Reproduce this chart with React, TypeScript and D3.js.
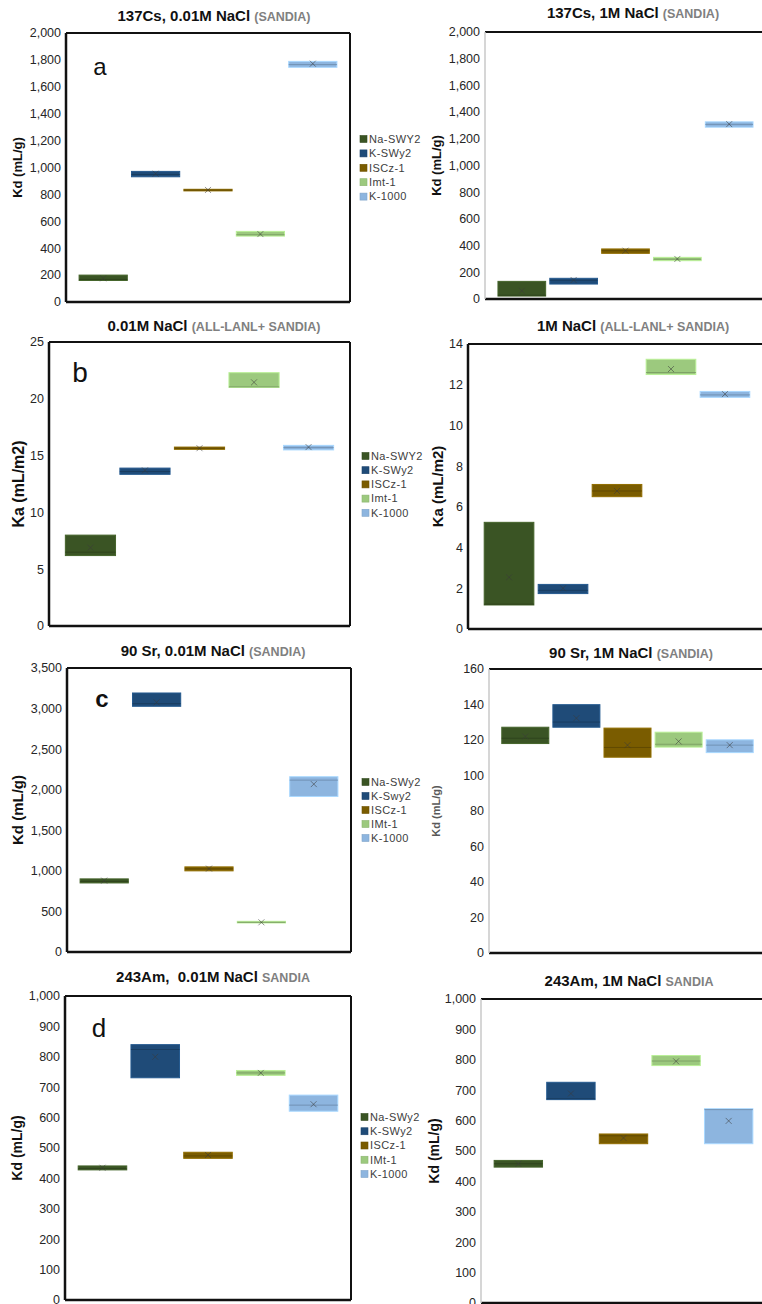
import React from 'react';
import * as d3 from 'd3';

// Clay minerals shown in every panel, in plotting order
const minerals = ['Na-SWY2', 'K-SWy2', 'ISCz-1', 'Imt-1', 'K-1000'];
const mineralColors = ['#3a5424', '#1f4b78', '#7a5c00', '#9cc97e', '#8db5df'];

// Legend wording differs slightly between the legend blocks
const legendLabelsA = ['Na-SWY2', 'K-SWy2', 'ISCz-1', 'Imt-1', 'K-1000'];
const legendLabelsC = ['Na-SWy2', 'K-Swy2', 'ISCz-1', 'IMt-1', 'K-1000'];
const legendLabelsD = ['Na-SWy2', 'K-SWy2', 'ISCz-1', 'IMt-1', 'K-1000'];

// 137Cs, 0.01 M NaCl — Kd (mL/g)
const csLowQ1 = [160, 931, 826, 490, 1745];
const csLowQ3 = [200, 971, 838, 525, 1789];
const csLowMed = [168, 948, 832, 500, 1765];
const csLowMean = [176, 954, 833, 505, 1772];

// 137Cs, 1 M NaCl — Kd (mL/g)
const csHighQ1 = [22, 112, 342, 287, 1287];
const csHighQ3 = [132, 155, 375, 312, 1327];
const csHighMed = [28, 140, 362, 298, 1308];
const csHighMean = [62, 142, 362, 300, 1310];

// 0.01 M NaCl — Ka (mL/m2)
const kaLowQ1 = [6.2, 13.35, 15.55, 21.0, 15.5];
const kaLowQ3 = [8.0, 13.9, 15.75, 22.3, 15.9];
const kaLowMed = [6.5, 13.6, 15.65, 21.05, 15.7];
const kaLowMean = [6.9, 13.7, 15.65, 21.45, 15.75];

// 1 M NaCl — Ka (mL/m2)
const kaHighQ1 = [1.18, 1.74, 6.5, 12.5, 11.38];
const kaHighQ3 = [5.24, 2.19, 7.1, 13.25, 11.67];
const kaHighMed = [1.22, 1.9, 6.78, 12.6, 11.5];
const kaHighMean = [2.54, 2.0, 6.78, 12.77, 11.54];

// 90Sr, 0.01 M NaCl — Kd (mL/g)
const srLowQ1 = [851, 3028, 1000, 358, 1917];
const srLowQ3 = [901, 3192, 1049, 378, 2160];
const srLowMed = [870, 3060, 1025, 366, 2118];
const srLowMean = [880, 3077, 1028, 366, 2069];

// 90Sr, 1 M NaCl — Kd (mL/g)
const srHighQ1 = [118.0, 127.2, 110.3, 116.0, 112.9];
const srHighQ3 = [127.2, 139.9, 126.7, 124.4, 120.1];
const srHighMed = [121.0, 130.1, 115.8, 117.6, 117.1];
const srHighMean = [122.0, 132.3, 117.1, 119.2, 117.1];

// 243Am, 0.01 M NaCl — Kd (mL/g)
const amLowQ1 = [428, 731, 466, 739, 621];
const amLowQ3 = [441, 840, 486, 755, 674];
const amLowMed = [432, 824, 474, 747, 641];
const amLowMean = [435, 800, 477, 747, 644];

// 243Am, 1 M NaCl — Kd (mL/g)
const amHighQ1 = [447, 669, 524, 781, 524];
const amHighQ3 = [469, 726, 556, 814, 639];
const amHighMed = [458, 672, 550, 796, 636];
const amHighMean = [458, 689, 543, 795, 599];

type Side = 'black' | 'gray' | 'none';

interface PanelSpec {
  title: string;
  note: string;
  titleX: number;
  titleY: number;
  left: number;
  right: number;
  top: number;
  bottom: number;
  max: number;
  step: number;
  q1: number[];
  q3: number[];
  med: number[];
  mean: number[];
  yLabel: string;
  yLabelX: number;
  yLabelSize: number;
  yLabelColor?: string;
  outerPad: number;
  frame: { top: Side; right: Side; bottom: Side; left: Side };
  letter?: { text: string; x: number; y: number; size: number; bold?: boolean };
  legend?: { x: number; y: number; gap: number; labels: string[] };
}

const FONT = "'Liberation Sans', Arial, Helvetica, sans-serif";

const panels: PanelSpec[] = [
  {
    title: '137Cs, 0.01M NaCl', note: '(SANDIA)', titleX: 214, titleY: 21,
    left: 66, right: 350, top: 33, bottom: 302, max: 2000, step: 200,
    q1: csLowQ1, q3: csLowQ3, med: csLowMed, mean: csLowMean,
    yLabel: 'Kd (mL/g)', yLabelX: 22, yLabelSize: 13, outerPad: 0.25,
    frame: { top: 'black', right: 'black', bottom: 'black', left: 'black' },
    letter: { text: 'a', x: 100, y: 75, size: 24 },
    legend: { x: 360, y: 139, gap: 14.4, labels: legendLabelsA },
  },
  {
    title: '137Cs, 1M NaCl', note: '(SANDIA)', titleX: 633, titleY: 18,
    left: 485, right: 766, top: 32, bottom: 299, max: 2000, step: 200,
    q1: csHighQ1, q3: csHighQ3, med: csHighMed, mean: csHighMean,
    yLabel: 'Kd (mL/g)', yLabelX: 441, yLabelSize: 13, outerPad: 0.25,
    frame: { top: 'black', right: 'none', bottom: 'black', left: 'gray' },
  },
  {
    title: '0.01M NaCl', note: '(ALL-LANL+ SANDIA)', titleX: 214, titleY: 331,
    left: 49, right: 350, top: 342, bottom: 626, max: 25, step: 5,
    q1: kaLowQ1, q3: kaLowQ3, med: kaLowMed, mean: kaLowMean,
    yLabel: 'Ka (mL/m2)', yLabelX: 24, yLabelSize: 16, outerPad: 0.3,
    frame: { top: 'black', right: 'black', bottom: 'black', left: 'black' },
    letter: { text: 'b', x: 80, y: 382, size: 28 },
    legend: { x: 362, y: 456, gap: 14.2, labels: legendLabelsA },
  },
  {
    title: '1M NaCl', note: '(ALL-LANL+ SANDIA)', titleX: 633, titleY: 331,
    left: 468, right: 766, top: 344, bottom: 629, max: 14, step: 2,
    q1: kaHighQ1, q3: kaHighQ3, med: kaHighMed, mean: kaHighMean,
    yLabel: 'Ka (mL/m2)', yLabelX: 443, yLabelSize: 15, outerPad: 0.3,
    frame: { top: 'black', right: 'none', bottom: 'black', left: 'black' },
  },
  {
    title: '90 Sr, 0.01M NaCl', note: '(SANDIA)', titleX: 213, titleY: 656,
    left: 67, right: 351, top: 668, bottom: 952, max: 3500, step: 500,
    q1: srLowQ1, q3: srLowQ3, med: srLowMed, mean: srLowMean,
    yLabel: 'Kd (mL/g)', yLabelX: 23, yLabelSize: 15, outerPad: 0.25,
    frame: { top: 'black', right: 'black', bottom: 'black', left: 'black' },
    letter: { text: 'c', x: 102, y: 707, size: 24, bold: true },
    legend: { x: 362, y: 782, gap: 14, labels: legendLabelsC },
  },
  {
    title: '90 Sr, 1M NaCl', note: '(SANDIA)', titleX: 631, titleY: 658,
    left: 489, right: 766, top: 669, bottom: 953, max: 160, step: 20,
    q1: srHighQ1, q3: srHighQ3, med: srHighMed, mean: srHighMean,
    yLabel: 'Kd (mL/g)', yLabelX: 440, yLabelSize: 11, yLabelColor: '#595959', outerPad: 0.25,
    frame: { top: 'black', right: 'none', bottom: 'black', left: 'gray' },
  },
  {
    title: '243Am,  0.01M NaCl', note: 'SANDIA', titleX: 213, titleY: 982,
    left: 65, right: 351, top: 996, bottom: 1300, max: 1000, step: 100,
    q1: amLowQ1, q3: amLowQ3, med: amLowMed, mean: amLowMean,
    yLabel: 'Kd (mL/g)', yLabelX: 22, yLabelSize: 14, outerPad: 0.25,
    frame: { top: 'black', right: 'black', bottom: 'black', left: 'black' },
    letter: { text: 'd', x: 99, y: 1037, size: 26 },
    legend: { x: 361, y: 1117, gap: 14.25, labels: legendLabelsD },
  },
  {
    title: '243Am, 1M NaCl', note: 'SANDIA', titleX: 629, titleY: 986,
    left: 481, right: 766, top: 999, bottom: 1303, max: 1000, step: 100,
    q1: amHighQ1, q3: amHighQ3, med: amHighMed, mean: amHighMean,
    yLabel: 'Kd (mL/g)', yLabelX: 439, yLabelSize: 14, outerPad: 0.25,
    frame: { top: 'black', right: 'none', bottom: 'black', left: 'gray' },
  },
];

const sideStroke = (s: Side) => (s === 'black' ? '#111' : s === 'gray' ? '#c8c8c8' : 'none');

function Panel({ p }: { p: PanelSpec }) {
  const y = d3.scaleLinear().domain([0, p.max]).range([p.bottom, p.top]);
  const x = d3
    .scaleBand<string>()
    .domain(minerals)
    .range([p.left, p.right])
    .paddingInner(0.08)
    .paddingOuter(p.outerPad);
  const ticks = d3.range(0, p.max + p.step / 2, p.step);
  const fmt = d3.format(',');
  const bw = x.bandwidth();
  const midY = (p.top + p.bottom) / 2;

  return (
    <g>
      {/* title */}
      <text
        x={p.titleX}
        y={p.titleY}
        textAnchor="middle"
        fontFamily={FONT}
        style={{ whiteSpace: 'pre' }}
      >
        <tspan fontSize={15} fontWeight="bold" fill="#111">
          {p.title + ' '}
        </tspan>
        <tspan fontSize={12.5} fontWeight="bold" fill="#808080">
          {p.note}
        </tspan>
      </text>

      {/* y ticks */}
      {ticks.map((t) => (
        <text
          key={t}
          x={p.left - 5}
          y={y(t)}
          dy="0.35em"
          textAnchor="end"
          fontFamily={FONT}
          fontSize={12.5}
          fill="#262626"
        >
          {fmt(t)}
        </text>
      ))}

      {/* y axis title */}
      <text
        transform={`translate(${p.yLabelX},${midY}) rotate(-90)`}
        textAnchor="middle"
        fontFamily={FONT}
        fontSize={p.yLabelSize}
        fontWeight="bold"
        fill={p.yLabelColor ?? '#111'}
      >
        {p.yLabel}
      </text>

      {/* boxes: interquartile range, median line and mean marker */}
      {minerals.map((m, i) => {
        const c = mineralColors[i];
        const x0 = x(m) as number;
        const yTop = y(p.q3[i]);
        const yBot = y(p.q1[i]);
        const edge = d3.color(c)!.brighter(0.5).formatHex();
        const mid = d3.color(c)!.darker(0.6).formatHex();
        const cx = x0 + bw / 2;
        const my = y(p.mean[i]);
        return (
          <g key={m}>
            <rect
              x={x0}
              y={yTop}
              width={bw}
              height={Math.max(1.5, yBot - yTop)}
              fill={c}
              stroke={edge}
              strokeWidth={1}
            />
            <line x1={x0} x2={x0 + bw} y1={y(p.med[i])} y2={y(p.med[i])} stroke={mid} strokeWidth={1} />
            <path
              d={`M${cx - 3},${my - 3}L${cx + 3},${my + 3}M${cx - 3},${my + 3}L${cx + 3},${my - 3}`}
              stroke="#3a3a3a"
              strokeOpacity={0.55}
              strokeWidth={1}
              fill="none"
            />
          </g>
        );
      })}

      {/* frame */}
      <line x1={p.left} x2={p.right} y1={p.top} y2={p.top} stroke={sideStroke(p.frame.top)} strokeWidth={2} />
      <line x1={p.left} x2={p.right} y1={p.bottom} y2={p.bottom} stroke={sideStroke(p.frame.bottom)} strokeWidth={2.5} />
      <line x1={p.left} x2={p.left} y1={p.top} y2={p.bottom} stroke={sideStroke(p.frame.left)} strokeWidth={p.frame.left === 'gray' ? 1.5 : 2.5} />
      <line x1={p.right} x2={p.right} y1={p.top} y2={p.bottom} stroke={sideStroke(p.frame.right)} strokeWidth={2} />

      {/* panel letter */}
      {p.letter && (
        <text
          x={p.letter.x}
          y={p.letter.y}
          textAnchor="middle"
          fontFamily={FONT}
          fontSize={p.letter.size}
          fontWeight={p.letter.bold ? 'bold' : 'normal'}
          fill="#111"
        >
          {p.letter.text}
        </text>
      )}

      {/* legend */}
      {p.legend &&
        p.legend.labels.map((lab, i) => {
          const ly = p.legend!.y + i * p.legend!.gap;
          return (
            <g key={lab}>
              <rect
                x={p.legend!.x}
                y={ly - 3.5}
                width={7}
                height={7}
                fill={mineralColors[i]}
                stroke={d3.color(mineralColors[i])!.darker(0.3).formatHex()}
                strokeWidth={0.6}
              />
              <text
                x={p.legend!.x + 9}
                y={ly}
                dy="0.35em"
                fontFamily={FONT}
                fontSize={11}
                letterSpacing={0.4}
                fill="#404040"
              >
                {lab}
              </text>
            </g>
          );
        })}
    </g>
  );
}

export default function App() {
  return (
    <svg
      width={762}
      height={1304}
      viewBox="0 0 762 1304"
      style={{ position: 'absolute', left: 0, top: 0, background: '#fff' }}
    >
      <rect width={762} height={1304} fill="#fff" />
      {panels.map((p, i) => (
        <Panel key={i} p={p} />
      ))}
    </svg>
  );
}
